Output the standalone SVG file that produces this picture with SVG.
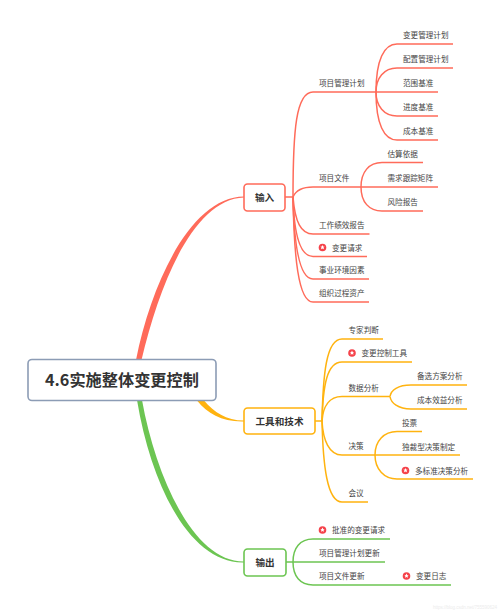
<svg xmlns="http://www.w3.org/2000/svg" width="500" height="613" viewBox="0 0 500 613">
<style>
text{font-family:"Noto Sans CJK SC","Liberation Sans",sans-serif;font-size:7.6px;fill:#444}
.t{font-size:9.6px;font-weight:700;fill:#333;text-anchor:middle}
.r{font-size:16.2px;font-weight:700;fill:#333;text-anchor:middle}
.w{font-family:"Liberation Sans",sans-serif;font-size:4.500px;fill:#ececec;text-anchor:end}
.l{fill:none;stroke-width:1.5}
.red{stroke:#ff6b5a}.or{stroke:#ffb30f}.gr{stroke:#6cc552}
.b{fill:#fff;stroke-width:1.6}
.star{fill:#fff}
</style>
<defs>
<g id="mark"><circle r="3.8" fill="#f5424a"/><path class="star" d="M0-2.400.7-.9 2.300-.8 1.100-.2 1.400 1.800 0 .9-1.400 1.800-1.100-.2-2.300-.8-.7-.9Z"/></g>
</defs>
<g id="connectors">
<path d="M136 360C152 280 192 197 244 196.600L244 197.400C194 199 160 282 141.500 360Z" fill="#ff6b5a"/>
<path d="M204 400.500C214 412 226 420.500 244 420.600L244 421.400C222 422 208 414 197 400.500Z" fill="#ffb30f"/>
<path d="M142 400C156 478 194 562 244 561.600L244 562.400C192 564 152 490 137 400Z" fill="#6cc552"/>

<g class="l red">
<path d="M285 197H293"/>
<path d="M293 197C293 130 296 92 313 92H376"/>
<path d="M293 197C296 190 302 187 313 187H361"/>
<path d="M293 197C295 222 301 234 313 234H369.500"/>
<path d="M293 197C294 235 300 256.500 313 256.500H367"/>
<path d="M293 197C294 245 299 279 313 279H369"/>
<path d="M293 197C294 255 298 302 313 302H369"/>
<path d="M376 92C376 60 384 44 397 44H453"/>
<path d="M376 92C376 78 384 68 397 68H453"/>
<path d="M376 92H438"/>
<path d="M376 92C376 106 384 116 397 116H438"/>
<path d="M376 92C376 124 384 140 397 140H438"/>
<path d="M361 187C361 172 369 162.500 382 162.500H423"/>
<path d="M361 187H438"/>
<path d="M361 187C361 202 369 211 382 211H423"/>
</g>
<g class="l or">
<path d="M315 421H322"/>
<path d="M322 421C323 375 326 339 342 339H383"/>
<path d="M322 421C323 385 327 362 342 362H412"/>
<path d="M322 421C323 407 329 396.500 342 396.500H390"/>
<path d="M322 421C323 440 329 455 342 455H375"/>
<path d="M322 421C323 465 327 502 342 502H368"/>
<path d="M390 396.500C391 390 398 385 411 385H467"/>
<path d="M390 396.500C391 403 398 409 411 409H467"/>
<path d="M375 455C375 441 384 431.500 397 431.500H422"/>
<path d="M375 455H460"/>
<path d="M375 455C375 469 384 479 397 479H473"/>
</g>
<g class="l gr">
<path d="M286 562H293"/>
<path d="M293 562C293 548 300 539 313 539H390"/>
<path d="M293 562H385"/>
<path d="M293 562C293 576 300 585 313 585H451"/>
</g>
</g>

<g id="root"><rect x="28" y="359.500" width="188" height="41" rx="4" class="b" stroke="#8c9cb5"/><text class="r" x="122" y="385.500">4.6实施整体变更控制</text></g>
<g id="input"><rect x="244" y="184" width="41" height="27" rx="3.500" class="b red"/><text class="t" x="264.500" y="201">输入</text></g>
<g id="tools"><rect x="244" y="408" width="71" height="26" rx="3.500" class="b or"/><text class="t" x="279.500" y="424.500">工具和技术</text></g>
<g id="output"><rect x="244" y="549" width="42" height="27" rx="3.500" class="b gr"/><text class="t" x="265" y="566">输出</text></g>

<g id="n1"><text x="319" y="86">项目管理计划</text></g>
<g id="n2"><text x="403" y="38">变更管理计划</text></g>
<g id="n3"><text x="403" y="62">配置管理计划</text></g>
<g id="n4"><text x="403" y="86">范围基准</text></g>
<g id="n5"><text x="403" y="110">进度基准</text></g>
<g id="n6"><text x="403" y="134">成本基准</text></g>
<g id="n7"><text x="319" y="180.500">项目文件</text></g>
<g id="n8"><text x="387.500" y="156.500">估算依据</text></g>
<g id="n9"><text x="387.500" y="180.500">需求跟踪矩阵</text></g>
<g id="n10"><text x="387.500" y="204.500">风险报告</text></g>
<g id="n11"><text x="319" y="227.500">工作绩效报告</text></g>
<g id="n12"><use href="#mark" x="322.500" y="247.500"/><text x="332" y="250.500">变更请求</text></g>
<g id="n13"><text x="319" y="273">事业环境因素</text></g>
<g id="n14"><text x="319" y="296">组织过程资产</text></g>
<g id="n15"><text x="348.500" y="333">专家判断</text></g>
<g id="n16"><use href="#mark" x="352" y="353"/><text x="361.500" y="356">变更控制工具</text></g>
<g id="n17"><text x="348.500" y="390.500">数据分析</text></g>
<g id="n18"><text x="417" y="378.500">备选方案分析</text></g>
<g id="n19"><text x="417" y="402.500">成本效益分析</text></g>
<g id="n20"><text x="348.500" y="449">决策</text></g>
<g id="n21"><text x="402" y="425.500">投票</text></g>
<g id="n22"><text x="402" y="449.500">独裁型决策制定</text></g>
<g id="n23"><use href="#mark" x="405.500" y="470.500"/><text x="415" y="473.500">多标准决策分析</text></g>
<g id="n24"><text x="348.500" y="496">会议</text></g>
<g id="n25"><use href="#mark" x="322.500" y="530"/><text x="332" y="533">批准的变更请求</text></g>
<g id="n26"><text x="319" y="556">项目管理计划更新</text></g>
<g id="n27"><text x="319" y="578.500">项目文件更新</text></g>
<g id="n28"><use href="#mark" x="406.500" y="576"/><text x="416" y="578.500">变更日志</text></g>
<text class="w" x="497" y="609">https://blog.csdn.net/755590624</text>
</svg>
